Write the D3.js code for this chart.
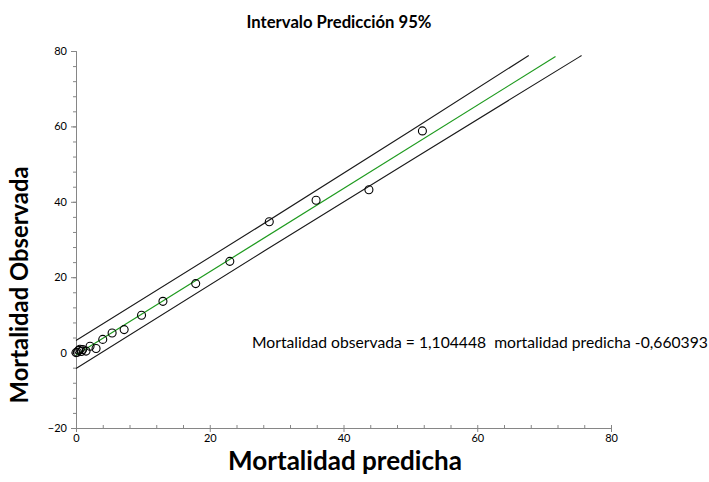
<!DOCTYPE html>
<html>
<head>
<meta charset="utf-8">
<script src="https://cdn.jsdelivr.net/npm/d3@7"></script>
<style>
  html, body { margin: 0; padding: 0; background: #fff; }
  svg { display: block; }
  text { font-family: Lato, "Open Sans", sans-serif; }
</style>
</head>
<body>
<svg id="chart" width="709" height="482"></svg>
<script>
// Observed vs. predicted mortality
const predicted = [0, 0.2, 0.4, 0.6, 0.8, 1.0, 1.5, 2.1, 3.0, 4.0, 5.4, 7.2, 9.8, 13.0, 17.9, 23.0, 28.9, 35.9, 43.8, 51.8];
const observed  = [0, 0.1, 0.6, 0.9, 0.3, 0.8, 0.4, 1.7, 1.1, 3.5, 5.2, 6.1, 9.9, 13.6, 18.3, 24.2, 34.7, 40.4, 43.2, 58.8];

// Regression line
const slope = 1.104448;
const intercept = -0.660393;
const fitRange = [0, 71.7];

// 95% prediction interval limits
const upperX = [0, 26, 50, 67.7];
const upperY = [3.2, 31.9, 58.8, 78.8];
const lowerX = [0, 28.2, 50, 75.6];
const lowerY = [-4.2, 27.0, 50.9, 78.8];

const xTicks = [0, 20, 40, 60, 80];
const yTicks = [-20, 0, 20, 40, 60, 80];

const svg = d3.select("#chart");
const x = d3.scaleLinear().domain([0, 80]).range([76, 611]);
const y = d3.scaleLinear().domain([-20, 80]).range([428, 51]);

const axisColor = "#868686";

// Pick a font size so a label spans the given width
function fitWidth(sel, width) {
  const node = sel.node();
  const fs = parseFloat(sel.attr("font-size"));
  const w = node.getComputedTextLength();
  if (w > 0) sel.attr("font-size", (fs * width / w).toFixed(2));
  return sel;
}

// Title
fitWidth(svg.append("text")
  .attr("x", 339).attr("y", 28)
  .attr("text-anchor", "middle")
  .attr("font-size", 13).attr("font-weight", "bold")
  .text("Intervalo Predicción 95%"), 185);

// Y axis
const yAxis = svg.append("g").attr("transform", `translate(${x(0)},0)`);
yAxis.call(d3.axisLeft(y).tickValues(d3.range(-20, 81, 4)).tickSize(3).tickFormat(""));
yAxis.call(g => g.append("g").call(d3.axisLeft(y).tickValues(yTicks).tickSize(5).tickPadding(4)));
yAxis.selectAll("line, path").attr("stroke", axisColor);
yAxis.selectAll("text").attr("font-size", 11).attr("fill", "#000")
  .style("font-family", "Lato, sans-serif");

// X axis
const xAxis = svg.append("g").attr("transform", `translate(0,${y(-20)})`);
xAxis.call(d3.axisTop(x).tickValues(d3.range(0, 81, 4)).tickSize(3).tickFormat(""));
xAxis.call(g => g.append("g").call(d3.axisBottom(x).tickValues(xTicks).tickSize(4).tickPadding(2)));
xAxis.selectAll("line, path").attr("stroke", axisColor);
xAxis.selectAll("text").attr("font-size", 11).attr("fill", "#000")
  .style("font-family", "Lato, sans-serif");

// Prediction interval limits
const band = d3.line().x(d => x(d[0])).y(d => y(d[1])).curve(d3.curveMonotoneX);
svg.append("path")
  .datum(upperX.map((v, i) => [v, upperY[i]]))
  .attr("d", band).attr("fill", "none").attr("stroke", "#1a1a1a").attr("stroke-width", 1.1);
svg.append("path")
  .datum(lowerX.map((v, i) => [v, lowerY[i]]))
  .attr("d", band).attr("fill", "none").attr("stroke", "#1a1a1a").attr("stroke-width", 1.1);

// Fitted line
svg.append("path")
  .datum(fitRange.map(v => [v, slope * v + intercept]))
  .attr("d", d3.line().x(d => x(d[0])).y(d => y(d[1])))
  .attr("fill", "none").attr("stroke", "#1e9a1e").attr("stroke-width", 1.2);

// Data points
svg.append("g").selectAll("circle")
  .data(predicted.map((v, i) => [v, observed[i]]))
  .join("circle")
  .attr("cx", d => x(d[0])).attr("cy", d => y(d[1]))
  .attr("r", 4).attr("fill", "none").attr("stroke", "#000").attr("stroke-width", 1.1);

// Equation
fitWidth(svg.append("text")
  .attr("x", 252).attr("y", 348)
  .attr("font-size", 14)
  .attr("xml:space", "preserve")
  .style("white-space", "pre")
  .text("Mortalidad observada = 1,104448  mortalidad predicha -0,660393"), 456);

// Axis titles
fitWidth(svg.append("text")
  .attr("x", 345).attr("y", 470)
  .attr("text-anchor", "middle")
  .attr("font-size", 20).attr("font-weight", "bold")
  .text("Mortalidad predicha"), 234);

fitWidth(svg.append("text")
  .attr("transform", "translate(28,285) rotate(-90)")
  .attr("text-anchor", "middle")
  .attr("font-size", 20).attr("font-weight", "bold")
  .text("Mortalidad Observada"), 237);
</script>
</body>
</html>
